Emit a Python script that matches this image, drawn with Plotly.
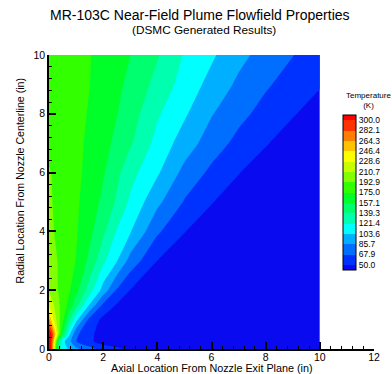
import plotly.graph_objects as go

# ---------------- data ----------------
axial_in = [0, 0.1, 0.2, 0.35, 0.5, 0.75, 1, 1.5, 2, 2.5, 3, 4, 5, 6, 7, 8, 9, 10]
radial_in = [0, 0.25, 0.5, 1, 1.5, 2, 3, 4, 5, 6, 7, 8, 9, 10]

# temperature (K); one row per radial location, one column per axial location
temp_r00 = [330, 290, 220, 140, 115, 100, 90, 75, 58, 52, 48, 44, 40, 40, 40, 40, 40, 40]
temp_r025 = [320, 291, 234.5, 145.2, 109.5, 91.7, 68.5, 53, 44, 43, 42, 40, 37, 37, 37, 37, 37, 37]
temp_r05 = [315, 299, 263, 201.8, 156, 106.6, 71.7, 53, 44, 42, 41, 38, 36, 36, 36, 36, 36, 36]
temp_r1 = [268, 241.3, 219.7, 198.8, 181.0, 143.4, 109.5, 62.5, 45.5, 42, 40, 36, 35, 35, 35, 35, 35, 35]
temp_r15 = [222, 216.4, 209.5, 195.9, 185.7, 168.7, 146.4, 101.8, 64.5, 48.6, 45, 38, 35, 35, 35, 35, 35, 35]
temp_r2 = [208, 203.7, 199.4, 192.0, 186.9, 176.6, 163.1, 129.5, 96.4, 66.3, 49.5, 40, 35, 35, 35, 35, 35, 35]
temp_r3 = [203, 199.6, 196.3, 191.6, 187.8, 181.4, 174.5, 152.5, 125.4, 104.8, 79.2, 49.8, 40, 35, 35, 35, 35, 35]
temp_r4 = [200, 196.5, 192.5, 189.9, 186.9, 181.8, 176.8, 161.7, 142.9, 120.5, 105.1, 70.8, 50.6, 40.3, 35, 35, 35, 35]
temp_r5 = [196, 193.5, 191.2, 188.7, 186.2, 182.0, 177.8, 166.6, 153.0, 136.5, 118.3, 89.9, 66.5, 50.9, 40.6, 35, 35, 35]
temp_r6 = [194, 192.6, 191.1, 188.8, 186.5, 182.7, 178.9, 169.8, 159.0, 144.1, 127.9, 105.9, 80.4, 63.9, 50.7, 40.5, 35, 35]
temp_r7 = [189, 188.0, 186.9, 185.4, 183.8, 181.2, 178.6, 172.2, 163.0, 153.0, 141.6, 115.5, 95.2, 76.6, 62.8, 51.4, 41.2, 35]
temp_r8 = [187, 186.2, 185.4, 184.2, 183.1, 181.1, 179.1, 173.9, 165.9, 157.9, 148.0, 123.8, 106.1, 86.9, 72.9, 61.6, 51.5, 41.5]
temp_r9 = [186, 185.3, 184.6, 183.5, 182.4, 180.6, 178.8, 175.1, 168.1, 161.0, 153.0, 133.7, 113.9, 98.0, 82.2, 70.1, 60.6, 51.6]
temp_r10 = [185, 184.4, 183.8, 182.8, 181.9, 180.3, 178.8, 175.6, 169.9, 163.5, 157.5, 140.9, 120.0, 106.3, 91.1, 78.7, 68.3, 59.8]

temperature = [temp_r00, temp_r025, temp_r05, temp_r1, temp_r15, temp_r2, temp_r3,
               temp_r4, temp_r5, temp_r6, temp_r7, temp_r8, temp_r9, temp_r10]

level_start = 50.0
level_end = 300.0
n_levels = 15
level_labels = ["50.0", "67.9", "85.7", "103.6", "121.4", "139.3", "157.1", "175.0",
                "192.9", "210.7", "228.6", "246.4", "264.3", "282.1", "300.0"]

band_colors = [
    "rgb(10,10,240)", "rgb(0,50,255)", "rgb(0,110,255)", "rgb(0,175,255)",
    "rgb(0,255,255)", "rgb(0,255,175)", "rgb(0,255,110)", "rgb(0,255,40)",
    "rgb(50,255,0)", "rgb(130,255,0)", "rgb(200,255,0)", "rgb(255,255,0)",
    "rgb(255,195,0)", "rgb(255,125,0)", "rgb(255,50,0)", "rgb(255,0,0)",
]

# ---------------- figure ----------------
W, H = 392, 374
ML, MR, MT, MB = 49, 18, 55, 25
PW, PH = W - ML - MR, H - MT - MB

def px_x(px):
    return (px - ML) / PW

def px_y(py):
    return (H - MB - py) / PH

step = (level_end - level_start) / (n_levels - 1)
level_vals = [level_start + i * step for i in range(n_levels)]
nb = len(band_colors)
colorscale = [[i / (nb - 1), c] for i, c in enumerate(band_colors)]

FONT = "Liberation Sans, Arial, Helvetica, sans-serif"

cb_left, cb_top, cb_len, cb_thick = 343, 115, 155, 13

fig = go.Figure()
fig.add_trace(go.Contour(
    x=axial_in, y=radial_in, z=temperature,
    autocontour=False,
    contours=dict(start=level_start, end=level_end, size=step,
                  coloring="fill", showlines=False),
    line=dict(width=0, smoothing=0.6),
    colorscale=colorscale,
    hoverinfo="skip",
    colorbar=dict(
        x=px_x(cb_left), xanchor="left", xpad=0,
        y=px_y(cb_top), yanchor="top", ypad=0,
        lenmode="pixels", len=cb_len, thickness=cb_thick,
        outlinecolor="black", outlinewidth=1,
        tickmode="array", tickvals=level_vals, ticktext=level_labels,
        ticks="",
        tickfont=dict(family=FONT, size=8.5, color="black"),
    ),
))

# separator lines inside the colour bar
vmin = level_start - step / 2
vmax = level_end + step / 2
shapes = []
for v in level_vals:
    py = cb_top + (vmax - v) / (vmax - vmin) * cb_len
    shapes.append(dict(type="line", xref="paper", yref="paper",
                       x0=px_x(cb_left), x1=px_x(cb_left + cb_thick),
                       y0=px_y(py), y1=px_y(py),
                       line=dict(color="black", width=1)))

axis_common = dict(
    showgrid=False, zeroline=False, showline=True, linecolor="black", linewidth=1.5,
    ticks="inside", ticklen=7, tickwidth=1.5, tickcolor="black",
    tickfont=dict(family=FONT, size=10.5, color="black"),
    minor=dict(dtick=0.4, ticks="inside", ticklen=3.5, tickwidth=1, tickcolor="black"),
    mirror=False, layer="above traces",
)

annotations = [
    dict(text="MR-103C Near-Field Plume Flowfield Properties", x=px_x(199.5), y=px_y(15.5),
         xref="paper", yref="paper", showarrow=False, xanchor="center", yanchor="middle",
         font=dict(family=FONT, size=14, color="black")),
    dict(text="(DSMC Generated Results)", x=px_x(203.5), y=px_y(30),
         xref="paper", yref="paper", showarrow=False, xanchor="center", yanchor="middle",
         font=dict(family=FONT, size=11.8, color="black")),
    dict(text="Axial Location From Nozzle Exit Plane (in)", x=px_x(211.5), y=px_y(368.3),
         xref="paper", yref="paper", showarrow=False, xanchor="center", yanchor="middle",
         font=dict(family=FONT, size=10.8, color="black")),
    dict(text="Radial Location From Nozzle Centerline (in)", x=px_x(19), y=px_y(180.5),
         xref="paper", yref="paper", showarrow=False, xanchor="center", yanchor="middle",
         textangle=-90, font=dict(family=FONT, size=10.6, color="black")),
    dict(text="Temperature<br>(K)", x=px_x(368), y=px_y(101),
         xref="paper", yref="paper", showarrow=False, xanchor="center", yanchor="middle",
         font=dict(family=FONT, size=8, color="black")),
]

fig.update_layout(
    width=W, height=H,
    margin=dict(l=ML, r=MR, t=MT, b=MB, pad=0, autoexpand=False),
    paper_bgcolor="white", plot_bgcolor="white",
    font=dict(family=FONT, color="black"),
    xaxis=dict(range=[0, 12], dtick=2, tick0=0, ticklabelstandoff=-2, **axis_common),
    yaxis=dict(range=[0, 10], dtick=2, tick0=0, **axis_common),
    showlegend=False,
    shapes=shapes,
    annotations=annotations,
)

fig.write_html("out.html",
               config={"displayModeBar": False},
               post_script="document.body.style.margin='0px';document.body.style.overflow='hidden';")
